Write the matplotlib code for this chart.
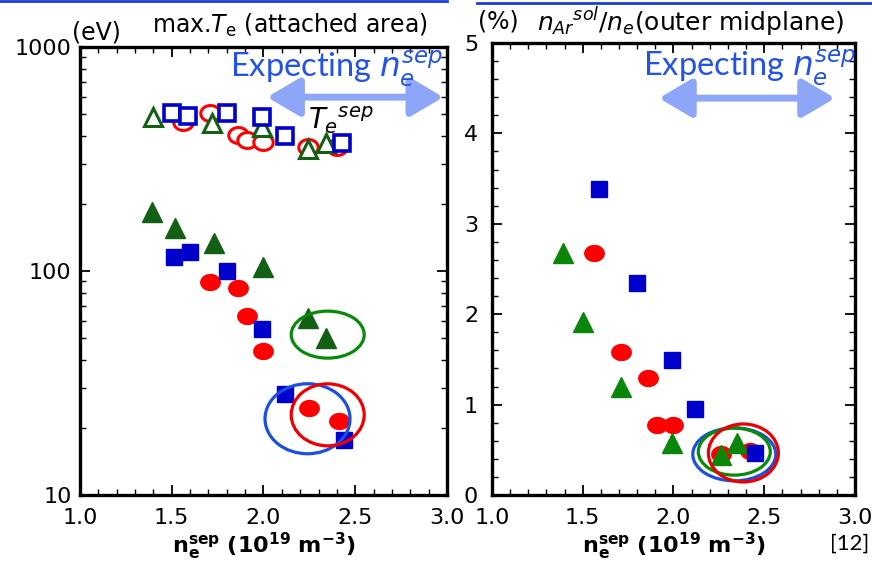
import matplotlib
matplotlib.use("Agg")
import matplotlib.pyplot as plt
import numpy as np
from matplotlib.patches import Ellipse
from matplotlib.path import Path
from matplotlib.transforms import ScaledTranslation
from matplotlib.lines import Line2D
from matplotlib.ticker import LogLocator, MultipleLocator, NullFormatter

plt.rcParams['font.family'] = ['DejaVu Sans']
plt.rcParams['mathtext.fontset'] = 'dejavusans'

# separatrix Te (open symbols)
te_sep_red_x = [1.56, 1.71, 1.86, 1.91, 2.00, 2.24, 2.40]
te_sep_red_y = [462, 507, 404, 384, 376, 357, 357]
te_sep_blue_x = [1.50, 1.59, 1.80, 1.99, 2.12, 2.43]
te_sep_blue_y = [507, 491, 507, 486, 400, 372]
te_sep_green_x = [1.40, 1.72, 1.99, 2.24, 2.34]
te_sep_green_y = [486, 457, 439, 350, 372]

# max Te in attached area (filled symbols)
te_max_red_x = [1.71, 1.86, 1.91, 2.00, 2.25, 2.41]
te_max_red_y = [89, 84, 63, 44, 24.5, 21.4]
te_max_blue_x = [1.51, 1.60, 1.80, 1.99, 2.12, 2.44]
te_max_blue_y = [115, 122, 100, 55, 28.3, 17.6]
te_max_green_x = [1.39, 1.52, 1.73, 2.00, 2.24, 2.34]
te_max_green_y = [183, 155, 133, 104, 62, 50]

# Ar concentration at outer midplane (%)
ar_red_x = [1.56, 1.71, 1.86, 1.91, 2.00, 2.26, 2.42]
ar_red_y = [2.68, 1.58, 1.30, 0.78, 0.78, 0.45, 0.49]
ar_blue_x = [1.59, 1.80, 1.99, 2.12, 2.45]
ar_blue_y = [3.38, 2.35, 1.49, 0.95, 0.46]
ar_green_x = [1.39, 1.50, 1.71, 1.99, 2.26, 2.35]
ar_green_y = [2.68, 1.91, 1.20, 0.58, 0.44, 0.58]

# expected separatrix density window
window = (2.0, 3.0)

RED = '#ff0000'
BLUE = '#0000cc'
DKGREEN = '#135f13'
GREEN = '#0a8a0a'
ARROW = '#8ea6f7'
TXTBLUE = '#2352e6'

# slightly flattened circle marker
t = np.linspace(0, 2 * np.pi, 40)
oval = Path(np.column_stack([np.cos(t), 0.82 * np.sin(t)]))

fig = plt.figure(figsize=(8.72, 5.66), dpi=100)
ax1 = fig.add_axes([0.0917, 0.1254, 0.4209, 0.7916])
ax2 = fig.add_axes([0.5642, 0.1254, 0.4163, 0.7986])


def ring(ax, x, y, w, h, color):
    # fixed-size ellipse (in pixels) centred on a data point
    tr = fig.dpi_scale_trans + ScaledTranslation(x, y, ax.transData)
    ax.add_artist(Ellipse((0, 0), w / 100, h / 100, transform=tr,
                          fill=False, ec=color, lw=2.3, zorder=5))


def style(ax):
    for s in ax.spines.values():
        s.set_linewidth(2.4)
    ax.tick_params(which='both', direction='in', top=True, right=True, labelsize=16)
    ax.tick_params(axis='x', pad=9)
    ax.tick_params(axis='y', pad=6)
    ax.tick_params(which='major', length=7, width=1.3)
    ax.tick_params(which='minor', length=4, width=1.0)
    ax.set_xlim(1.0, 3.0)
    ax.xaxis.set_major_locator(MultipleLocator(0.5))
    ax.xaxis.set_minor_locator(MultipleLocator(0.1))
    ax.xaxis.set_major_formatter(plt.FormatStrFormatter('%.1f'))
    ax.set_xlabel(r'$\mathbf{n_e^{sep}\ (10^{19}\ m^{-3})}$', fontsize=16, labelpad=2)


# left: Te
ax1.set_yscale('log')
ax1.plot(te_sep_red_x, te_sep_red_y, ls='none', marker=oval, ms=14, mfc='white', mec=RED, mew=2.2)
ax1.plot(te_sep_green_x, te_sep_green_y, ls='none', marker='^', ms=13, mfc='white', mec=DKGREEN, mew=2.2)
ax1.plot(te_sep_blue_x, te_sep_blue_y, ls='none', marker='s', ms=11, mfc='white', mec=BLUE, mew=2.6)
ax1.plot(te_max_red_x, te_max_red_y, ls='none', marker=oval, ms=14, color=RED)
ax1.plot(te_max_green_x, te_max_green_y, ls='none', marker='^', ms=14, color=DKGREEN)
ax1.plot(te_max_blue_x, te_max_blue_y, ls='none', marker='s', ms=12, color=BLUE)
style(ax1)
ax1.set_ylim(10, 1000)
ax1.yaxis.set_major_locator(LogLocator(base=10))
ax1.yaxis.set_minor_locator(LogLocator(base=10, subs=np.arange(2, 10)))
ax1.yaxis.set_major_formatter(plt.FuncFormatter(lambda v, p: '%d' % v))
ax1.yaxis.set_minor_formatter(NullFormatter())
ring(ax1, 2.35, 52, 73, 47, GREEN)
ring(ax1, 2.24, 21.9, 85, 70, '#1a4fe0')
ring(ax1, 2.35, 22.8, 73, 62, '#ee0000')
ax1.annotate('', xy=(window[1] - 0.02, 597), xytext=(window[0] + 0.02, 597),
             arrowprops=dict(arrowstyle='<|-|>,head_length=1.1,head_width=0.65',
                             lw=5, color=ARROW, mutation_scale=18, shrinkA=0, shrinkB=0))
ax1.text(0.70, 0.952, r'Expecting $n_e^{sep}$', transform=ax1.transAxes, color=TXTBLUE,
         fontsize=23.5, family='Lato', ha='center', va='center', clip_on=False)
ax1.text(0.71, 0.837, r'$T_e{}^{sep}$', transform=ax1.transAxes, fontsize=20,
         ha='center', va='center')

# right: Ar concentration
ax2.plot(ar_red_x, ar_red_y, ls='none', marker=oval, ms=14, color=RED)
ax2.plot(ar_green_x, ar_green_y, ls='none', marker='^', ms=14, color='#0a870a')
ax2.plot(ar_blue_x, ar_blue_y, ls='none', marker='s', ms=12, color=BLUE)
style(ax2)
ax2.set_ylim(0, 5)
ax2.yaxis.set_major_locator(MultipleLocator(1))
ax2.yaxis.set_minor_locator(MultipleLocator(0.2))
ax2.tick_params(axis='y', pad=10)
ring(ax2, 2.335, 0.45, 83, 53, '#1a4fe0')
ring(ax2, 2.335, 0.48, 72, 47, GREEN)
ring(ax2, 2.385, 0.465, 70, 58, '#ee0000')
ax2.annotate('', xy=(window[1] - 0.11, 4.39), xytext=(window[0] - 0.08, 4.39),
             arrowprops=dict(arrowstyle='<|-|>,head_length=1.1,head_width=0.65',
                             lw=5, color=ARROW, mutation_scale=18, shrinkA=0, shrinkB=0))
ax2.text(0.708, 0.945, r'Expecting $n_e^{sep}$', transform=ax2.transAxes, color=TXTBLUE,
         fontsize=23.5, family='Lato', ha='center', va='center', clip_on=False)

# axis titles
fig.text(0.111, 0.943, '(eV)', fontsize=17, ha='center', va='center')
fig.text(0.333, 0.955, r'max.$T_{\rm e}$ (attached area)', fontsize=17, ha='center', va='center')
fig.text(0.571, 0.962, '(%)', fontsize=17, ha='center', va='center')
fig.text(0.792, 0.961, r'$n_{Ar}{}^{sol}/n_e$(outer midplane)', fontsize=18, ha='center', va='center')
fig.text(0.974, 0.039, '[12]', fontsize=16, family='Lato', ha='center', va='center')

# slide rule along the top edge
fig.add_artist(Line2D([0, 447 / 872], [0.998, 0.998], color='#1a3fd9', lw=2))
fig.add_artist(Line2D([477 / 872, 1], [0.995, 0.995], color='#1a3fd9', lw=2))

fig.savefig('out.png', dpi=100)
